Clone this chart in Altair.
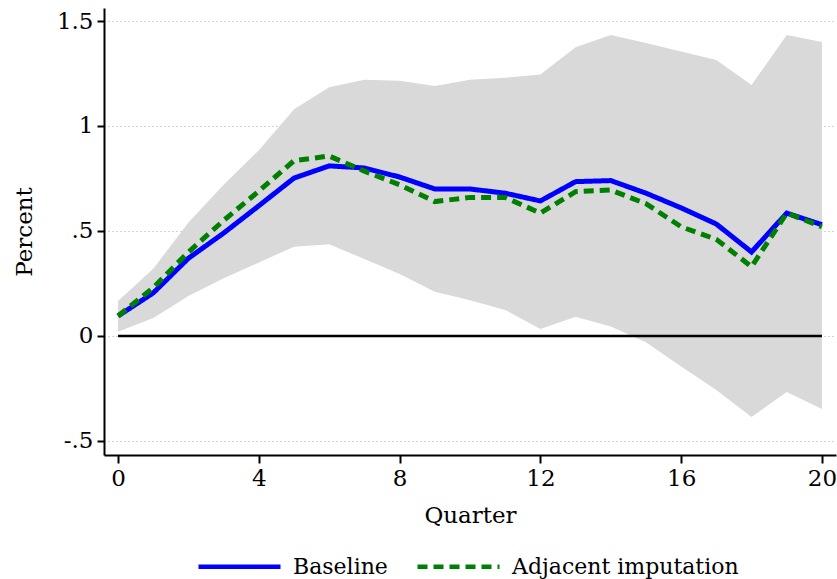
import altair as alt
import pandas as pd

# Impulse responses by quarter after the shock
quarter = list(range(21))
baseline = [0.095, 0.205, 0.37, 0.49, 0.62, 0.752, 0.81, 0.80, 0.757, 0.70, 0.70,
            0.68, 0.643, 0.735, 0.74, 0.68, 0.61, 0.533, 0.40, 0.585, 0.53]
adjacent = [0.095, 0.23, 0.40, 0.55, 0.69, 0.835, 0.857, 0.785, 0.72, 0.64, 0.66,
            0.66, 0.585, 0.687, 0.695, 0.63, 0.52, 0.46, 0.33, 0.585, 0.52]
# Confidence band around the baseline response
ci_upper = [0.167, 0.32, 0.54, 0.72, 0.885, 1.08, 1.185, 1.22, 1.215, 1.19, 1.22,
            1.23, 1.245, 1.375, 1.433, 1.395, 1.355, 1.314, 1.195, 1.433, 1.40]
ci_lower = [0.02, 0.086, 0.19, 0.275, 0.35, 0.425, 0.437, 0.366, 0.295, 0.21, 0.17,
            0.124, 0.033, 0.092, 0.045, -0.03, -0.146, -0.257, -0.386, -0.267, -0.348]

series_names = ["Baseline", "Adjacent imputation"]
x_ticks = [0, 4, 8, 12, 16, 20]
y_ticks = [-0.5, 0, 0.5, 1, 1.5]

FONT = "DejaVu Serif"

band_df = pd.DataFrame({"quarter": quarter, "lo": ci_lower, "hi": ci_upper})
lines_df = pd.concat([
    pd.DataFrame({"quarter": quarter, "value": baseline, "series": series_names[0]}),
    pd.DataFrame({"quarter": quarter, "value": adjacent, "series": series_names[1]}),
], ignore_index=True)
zero_df = pd.DataFrame({"x0": [quarter[0]], "x1": [quarter[-1]], "y": [0]})

x_scale = alt.Scale(domain=[-0.4, 20.4], nice=False, zero=False)
y_scale = alt.Scale(domain=[-0.567, 1.562], nice=False, zero=False)

x_axis = alt.Axis(values=x_ticks, grid=False, title="Quarter", titlePadding=14,
                  labelPadding=4, tickSize=8)
y_axis = alt.Axis(values=y_ticks, grid=True, title="Percent", titlePadding=20,
                  labelPadding=4, tickSize=7, format="~g",
                  labelExpr="datum.value == 0.5 ? '.5' : datum.value == -0.5 ? '-.5' : datum.label")

band = alt.Chart(band_df).mark_area(color="#d9d9d9", opacity=1).encode(
    x=alt.X("quarter:Q", scale=x_scale, axis=x_axis),
    y=alt.Y("lo:Q", scale=y_scale, axis=y_axis),
    y2="hi:Q",
)

zero_line = alt.Chart(zero_df).mark_rule(color="black", strokeWidth=2.5).encode(
    x="x0:Q", x2="x1:Q", y="y:Q",
)

legend = alt.Legend(
    title=None, orient="none", direction="horizontal", legendX=92, legendY=515,
    symbolType="stroke", symbolSize=6724, symbolStrokeWidth=4.5,
    labelFont=FONT, labelFontSize=22, labelColor="black", labelOffset=10,
    labelLimit=400, columnPadding=20, padding=0,
)

lines = alt.Chart(lines_df).mark_line(strokeWidth=5).encode(
    x="quarter:Q",
    y="value:Q",
    color=alt.Color("series:N", scale=alt.Scale(domain=series_names, range=["#0000ff", "#008000"]),
                    legend=legend, sort=series_names),
    strokeDash=alt.StrokeDash("series:N", scale=alt.Scale(domain=series_names, range=[[1, 0], [10, 6]]),
                              legend=legend, sort=series_names),
)

chart = alt.layer(band, zero_line, lines).properties(
    width=732, height=447,
    autosize=alt.AutoSizeParams(type="none"),
    padding={"left": 104, "top": 8, "right": 1, "bottom": 124},
    background="white",
).configure_view(stroke=None).configure_axis(
    labelFont=FONT, labelFontSize=23, labelColor="black",
    titleFont=FONT, titleFontSize=23, titleColor="black", titleFontWeight="normal",
    domainColor="black", domainWidth=2, tickColor="black", tickWidth=2,
    gridColor="#a8a8a8", gridDash=[1, 3], gridWidth=1,
)

chart.save("out.html", embed_options={"renderer": "svg", "actions": False})
